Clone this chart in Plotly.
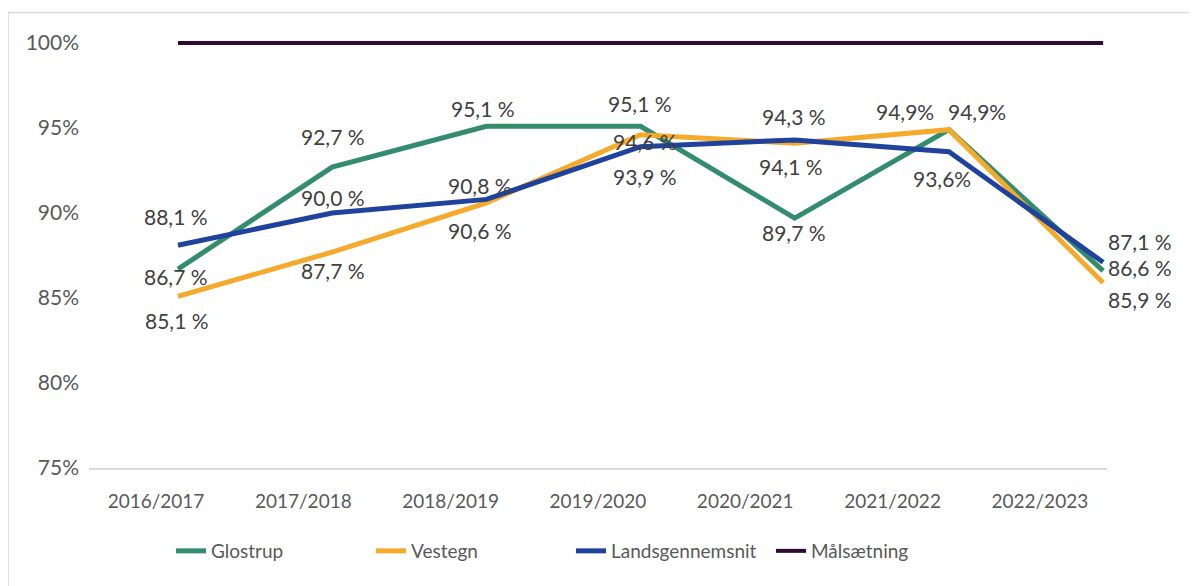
import plotly.graph_objects as go

# ---- data ----
categories = ["2016/2017", "2017/2018", "2018/2019", "2019/2020", "2020/2021", "2021/2022", "2022/2023"]
glostrup = [86.7, 92.7, 95.1, 95.1, 89.7, 94.9, 86.6]
vestegn = [85.1, 87.7, 90.6, 94.6, 94.1, 94.9, 85.9]
landsgennemsnit = [88.1, 90.0, 90.8, 93.9, 94.3, 93.6, 87.1]
maalsaetning = [100, 100, 100, 100, 100, 100, 100]

glostrup_labels = ["86,7 %", "92,7 %", "95,1 %", "95,1 %", "89,7 %", "94,9%", "86,6 %"]
vestegn_labels = ["85,1 %", "87,7 %", "90,6 %", "94,6 %", "94,1 %", "94,9%", "85,9 %"]
lands_labels = ["88,1 %", "90,0 %", "90,8 %", "93,9 %", "94,3 %", "93,6%", "87,1 %"]

y_ticks = [75, 80, 85, 90, 95, 100]

# ---- label offsets (pixels: dx right, dy down) ----
glostrup_off = [(-2, 7), (1, -31), (-3, -18), (-1, -23), (-1, 14), (-44, -18), (37, -3)]
vestegn_off = [(-1, 24), (1, 18), (-6, 28), (4, 7), (-4, 23), (28, -18), (37, 17)]
lands_off = [(-2, -29), (1, -16), (-6, -14), (4, 30), (-1, -23), (-7, 27), (37, -21)]

# ---- styles ----
FONT = "Lato"
C_GREEN = "#338C6B"
C_ORANGE = "#F5AA2B"
C_BLUE = "#1F439C"
C_PURPLE = "#2F0A33"
TXT = "#595959"
LBL = "#404040"

OFF = 8  # page body margin
W, H = 1197, 586
# plot area in screenshot pixels
SL, SR, ST, SB = 89, 1107, 30, 468
L, R, T, B = SL - OFF, SR - OFF, ST - OFF, SB - OFF
pw, ph = R - L, B - T

def px(xs):
    return (xs - SL) / pw

def py(ys):
    return (SB - ys) / ph

idx = list(range(len(categories)))

fig = go.Figure()
series = [
    ("Glostrup", glostrup, C_GREEN, 5),
    ("Vestegn", vestegn, C_ORANGE, 5),
    ("Landsgennemsnit", landsgennemsnit, C_BLUE, 5),
    ("Målsætning", maalsaetning, C_PURPLE, 4),
]
for name, vals, col, w in series:
    fig.add_trace(go.Scatter(
        x=idx, y=vals, name=name, mode="lines",
        line=dict(color=col, width=w), hoverinfo="skip",
    ))

# helper trace for the category label axis
fig.add_trace(go.Scatter(
    x=categories, y=[None] * len(categories), xaxis="x2", mode="lines",
    showlegend=False, hoverinfo="skip",
))

annotations = []
for vals, labels, offs in [(glostrup, glostrup_labels, glostrup_off),
                           (vestegn, vestegn_labels, vestegn_off),
                           (landsgennemsnit, lands_labels, lands_off)]:
    for i, (v, t, (dx, dy)) in enumerate(zip(vals, labels, offs)):
        annotations.append(dict(
            x=i, y=v, xref="x", yref="y", text=t, showarrow=False,
            xshift=dx, yshift=-dy, xanchor="center", yanchor="middle",
            font=dict(family=FONT, size=21, color=LBL),
        ))

fig.update_layout(
    width=W, height=H,
    margin=dict(l=L, r=W - R, t=T, b=H - B, pad=0),
    paper_bgcolor="white", plot_bgcolor="white",
    font=dict(family=FONT, size=19, color=TXT),
    xaxis=dict(
        range=[-0.577, 6.025], showticklabels=False, showgrid=False,
        zeroline=False, showline=True, linecolor="#d9d9d9", linewidth=1.5,
        ticks="",
    ),
    xaxis2=dict(
        overlaying="x", anchor="y", side="bottom", type="category",
        range=[-0.455, 6.456], showgrid=False, zeroline=False, showline=False,
        ticks="", ticklabelstandoff=20,
        tickfont=dict(family=FONT, size=19, color=TXT),
    ),
    yaxis=dict(
        range=[75, 75 + ph / 17.0], tickvals=y_ticks,
        ticktext=[f"{v}%" for v in y_ticks],
        showgrid=False, zeroline=False, showline=False, ticks="",
        ticklabelstandoff=9,
        tickfont=dict(family=FONT, size=21, color=TXT),
    ),
    legend=dict(
        orientation="h", x=px(571), xanchor="center", y=py(551), yanchor="middle",
        font=dict(family=FONT, size=19, color=TXT), bgcolor="rgba(0,0,0,0)",
        entrywidth=155, entrywidthmode="pixels",
    ),
    annotations=annotations,
    shapes=[dict(
        type="rect", xref="paper", yref="paper",
        x0=px(8), x1=px(1220), y0=py(610), y1=py(12.5),
        line=dict(color="#d9d9d9", width=1.5), fillcolor="rgba(0,0,0,0)",
        layer="below",
    )],
    showlegend=True,
)

fig.write_html("out.html")
